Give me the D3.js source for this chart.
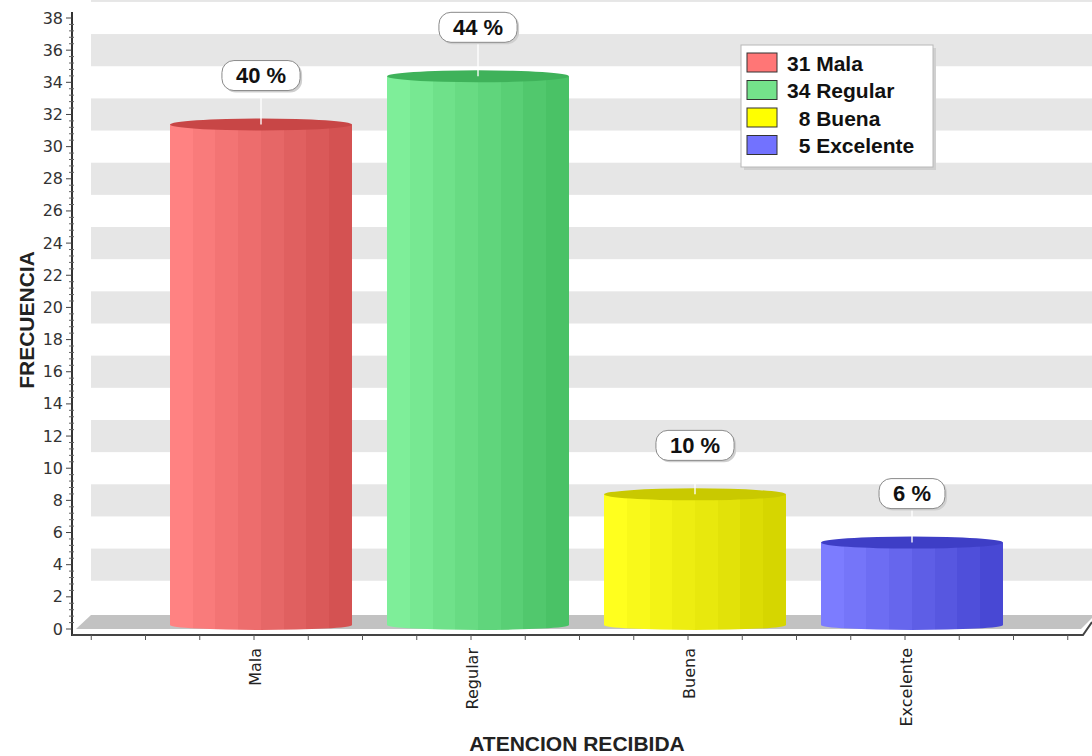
<!DOCTYPE html>
<html>
<head>
<meta charset="utf-8">
<script src="https://cdn.jsdelivr.net/npm/d3@7"></script>
<style>
  html, body { margin: 0; padding: 0; background: #fff; }
  svg { display: block; }
  text { white-space: pre; }
</style>
</head>
<body>
<svg id="chart" width="1092" height="756"></svg>
<script>
// Survey results: attention received
const categories = ["Mala", "Regular", "Buena", "Excelente"];
const counts = [31, 34, 8, 5];
const yTickValues = [0, 2, 4, 6, 8, 10, 12, 14, 16, 18, 20, 22, 24, 26, 28, 30, 32, 34, 36, 38];
const bandCenters = [4, 8, 12, 16, 20, 24, 28, 32, 36, 40];

// per-series palette: light side, dark side, cylinder top, legend swatch
const lightColors = ["#ff8282", "#7eee99", "#ffff1e", "#7c7cff"];
const darkColors  = ["#d45252", "#4ac266", "#d6d600", "#4848d4"];
const topColors   = ["#c84646", "#3fb25a", "#c9c900", "#3e3ec6"];
const swatchColors = ["#ff7676", "#74e28b", "#ffff00", "#7272ff"];

const W = 1092, H = 756;
const svg = d3.select("#chart");
const defs = svg.append("defs");

const y = d3.scaleLinear().domain([0, 38]).range([629, 18]);
const x = d3.scalePoint().domain(categories).range([254, 905]);
const step = x.step();

const axisX = 72, axisY = 635;
const wallLeft = 91, wallRight = 1092;

// back wall stripes
svg.append("g").selectAll("rect").data(bandCenters).join("rect")
  .attr("x", wallLeft).attr("width", wallRight - wallLeft)
  .attr("y", d => Math.max(0, y(d + 1)))
  .attr("height", d => y(d - 1) - Math.max(0, y(d + 1)))
  .attr("fill", "#e6e6e6");

// floor
svg.append("polygon")
  .attr("points", [[76, 629], [wallLeft, 615], [1095, 615], [1081, 629]].map(p => p.join(",")).join(" "))
  .attr("fill", "#c2c2c2");

// faceted cylinder gradients
const facets = 8;
categories.forEach((c, i) => {
  const g = defs.append("linearGradient").attr("id", "cyl" + i)
    .attr("x1", "0%").attr("x2", "100%").attr("y1", "0%").attr("y2", "0%");
  const interp = d3.interpolateRgb(lightColors[i], darkColors[i]);
  for (let k = 0; k < facets; k++) {
    const col = interp(k / (facets - 1));
    g.append("stop").attr("offset", (k / facets * 100) + "%").attr("stop-color", col);
    g.append("stop").attr("offset", ((k + 1) / facets * 100) + "%").attr("stop-color", col);
  }
});

// bars as cylinders
const barLeft = -84, barWidth = 182;
const rx = barWidth / 2, ryTop = 6, ryBot = 5;
const bars = svg.append("g").selectAll("g").data(categories).join("g");
bars.append("rect")
  .attr("x", d => x(d) + barLeft)
  .attr("width", barWidth)
  .attr("y", (d, i) => y(counts[i]) - ryTop)
  .attr("height", (d, i) => y(0) - 4 - (y(counts[i]) - ryTop))
  .attr("fill", (d, i) => `url(#cyl${i})`);
bars.append("ellipse")
  .attr("cx", d => x(d) + barLeft + rx)
  .attr("cy", y(0) - 4)
  .attr("rx", rx).attr("ry", ryBot)
  .attr("fill", (d, i) => `url(#cyl${i})`);
bars.append("ellipse")
  .attr("cx", d => x(d) + barLeft + rx)
  .attr("cy", (d, i) => y(counts[i]) - ryTop)
  .attr("rx", rx).attr("ry", ryTop)
  .attr("fill", (d, i) => topColors[i]);

// percentage callouts
const total = d3.sum(counts);
const pct = counts.map(c => Math.round(c / total * 100) + " %");
const labels = svg.append("g").selectAll("g").data(categories).join("g")
  .attr("transform", (d, i) => `translate(${x(d) + barLeft + rx},${y(counts[i])})`);
labels.append("line")
  .attr("x1", 0).attr("x2", 0).attr("y1", -40).attr("y2", -ryTop)
  .attr("stroke", "#ffffff").attr("stroke-width", 1.5).attr("opacity", 0.9);
labels.each(function (d, i) {
  const g = d3.select(this);
  const t = g.append("text")
    .attr("x", 0).attr("y", -55)
    .attr("text-anchor", "middle").attr("dominant-baseline", "central")
    .attr("font-family", "Liberation Sans, Arial, sans-serif")
    .attr("font-weight", "bold").attr("font-size", 22).attr("fill", "#111")
    .text(pct[i]);
  const w = t.node().getComputedTextLength() + 28;
  g.insert("rect", "text")
    .attr("x", -w / 2 + 2).attr("y", -68).attr("width", w).attr("height", 30)
    .attr("rx", 12).attr("fill", "#cfcfcf");
  g.insert("rect", "text")
    .attr("x", -w / 2).attr("y", -70).attr("width", w).attr("height", 30)
    .attr("rx", 12).attr("fill", "#fff").attr("stroke", "#8a8a8a").attr("stroke-width", 1);
});

// value axis
const yAxisG = svg.append("g");
yAxisG.append("line").attr("x1", axisX).attr("x2", axisX).attr("y1", 12).attr("y2", axisY + 1)
  .attr("stroke", "#333").attr("stroke-width", 2);
const minor = d3.range(0, 38.01, 0.4).filter(v => Math.abs(v / 2 - Math.round(v / 2)) > 0.01);
yAxisG.selectAll(".minor").data(minor).join("line")
  .attr("x1", axisX - 3).attr("x2", axisX + 2)
  .attr("y1", d => y(d)).attr("y2", d => y(d))
  .attr("stroke", "#666").attr("stroke-width", 1);
yAxisG.selectAll(".major").data(yTickValues).join("line")
  .attr("x1", axisX - 6).attr("x2", axisX)
  .attr("y1", d => y(d)).attr("y2", d => y(d))
  .attr("stroke", "#444").attr("stroke-width", 1);
yAxisG.selectAll("text").data(yTickValues).join("text")
  .attr("x", 63).attr("y", d => y(d))
  .attr("text-anchor", "end").attr("dominant-baseline", "central")
  .attr("font-family", "DejaVu Sans, sans-serif").attr("font-size", 16)
  .attr("fill", "#333")
  .text(d => d);

// category axis
const xAxisG = svg.append("g");
xAxisG.append("polyline")
  .attr("points", [[axisX, axisY], [1083, axisY], [1092, 622]].map(p => p.join(",")).join(" "))
  .attr("fill", "none").attr("stroke", "#444").attr("stroke-width", 2);
const quarterTicks = d3.range(-3, 4 * (categories.length - 1) + 4).map(k => x(categories[0]) + k * step / 4);
xAxisG.selectAll(".qt").data(quarterTicks).join("line")
  .attr("x1", d => d).attr("x2", d => d)
  .attr("y1", axisY).attr("y2", axisY + 5)
  .attr("stroke", "#555").attr("stroke-width", 1);
xAxisG.selectAll("text").data(categories).join("text")
  .attr("transform", d => `translate(${x(d) + 1},648) rotate(-90)`)
  .attr("text-anchor", "end").attr("dominant-baseline", "central")
  .attr("font-family", "DejaVu Sans, sans-serif").attr("font-size", 16)
  .attr("fill", "#222")
  .text(d => d);

// axis titles
svg.append("text")
  .attr("transform", "translate(26,320) rotate(-90)")
  .attr("text-anchor", "middle").attr("dominant-baseline", "central")
  .attr("font-family", "Liberation Sans, Arial, sans-serif")
  .attr("font-weight", "bold").attr("font-size", 21).attr("fill", "#222")
  .text("FRECUENCIA");
svg.append("text")
  .attr("x", 577).attr("y", 743)
  .attr("text-anchor", "middle").attr("dominant-baseline", "central")
  .attr("font-family", "Liberation Sans, Arial, sans-serif")
  .attr("font-weight", "bold").attr("font-size", 21).attr("fill", "#222")
  .text("ATENCION RECIBIDA");

// legend
const lg = svg.append("g").attr("transform", "translate(741,45)");
lg.append("rect").attr("x", 3).attr("y", 3).attr("width", 192).attr("height", 122).attr("fill", "#d0d0d0");
lg.append("rect").attr("x", 0).attr("y", 0).attr("width", 192).attr("height", 122)
  .attr("fill", "#fff").attr("stroke", "#b8b8b8").attr("stroke-width", 1);
const rows = lg.selectAll(".row").data(categories).join("g")
  .attr("transform", (d, i) => `translate(6,${8 + i * 27.5})`);
rows.append("rect").attr("width", 30).attr("height", 19)
  .attr("fill", (d, i) => swatchColors[i]).attr("stroke", "#333").attr("stroke-width", 1);
rows.append("text")
  .attr("x", 40).attr("y", 10)
  .attr("dominant-baseline", "central")
  .attr("font-family", "Liberation Sans, Arial, sans-serif")
  .attr("font-weight", "bold").attr("font-size", 21).attr("fill", "#111")
  .text((d, i) => (counts[i] < 10 ? "  " : "") + counts[i] + " " + d);
</script>
</body>
</html>
